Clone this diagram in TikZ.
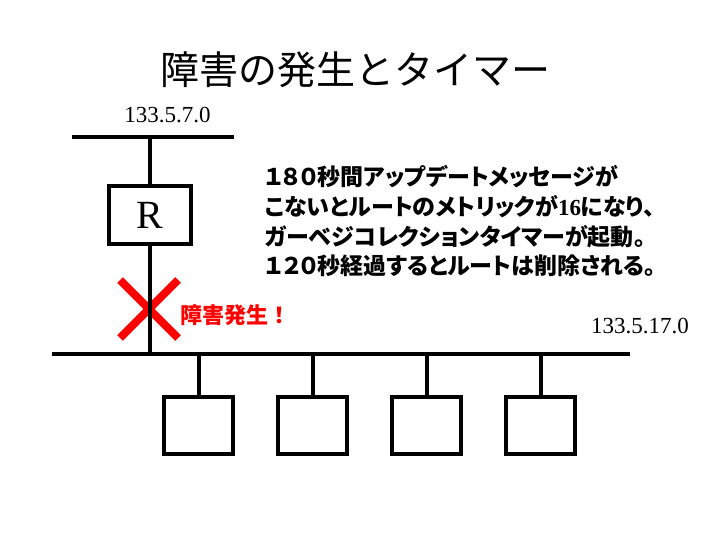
\documentclass[tikz,border=0pt]{standalone}
\usepackage{fontspec}
\setmainfont{Liberation Serif}
\newfontfamily\jp{Noto Sans CJK JP}
\newfontfamily\jpp[RawFeature=+palt]{Noto Sans CJK JP}
\begin{document}
\begin{tikzpicture}[x=1pt,y=-1pt,
  wire/.style={line width=4pt},
  hostbox/.style={draw,line width=4pt,minimum width=69pt,minimum height=57pt,inner sep=0pt},
  addr/.style={font=\fontsize{23}{27}\selectfont,inner sep=0pt},
  body/.style={font=\jpp\bfseries\fontsize{23}{26}\selectfont,inner sep=0pt,anchor=west}]
\useasboundingbox (0,0) rectangle (720,540);
% title
\node[font=\jp\fontsize{39}{46}\selectfont,inner sep=0pt] (title) at (355,70) {障害の発生とタイマー};
% upper network
\node[addr,anchor=base] (a1) at (167.5,123) {133.5.7.0};
\coordinate (t1) at (72,137);
\coordinate (t2) at (234,137);
\coordinate (tj) at (150,137);
\draw[wire] (t1) -- (t2);
% router
\node[hostbox,minimum width=82pt,font=\fontsize{40}{44}\selectfont] (R) at (150,215) {R};
% failure mark
\coordinate (x1) at (120,280);
\coordinate (x2) at (178,338);
\coordinate (x3) at (178,280);
\coordinate (x4) at (120,338);
\draw[red,line width=8pt] (x1) -- (x2) (x3) -- (x4);
% lower network
\coordinate (b1) at (52,354);
\coordinate (b2) at (630,354);
\coordinate (bj) at (150,354);
\draw[wire] (tj) -- (R.north);
\draw[wire] (R.south) -- (bj);
\draw[wire] (b1) -- (b2);
\node[addr,anchor=base] (a2) at (640,333) {133.5.17.0};
% hosts
\foreach \i/\x in {1/198.5,2/312.5,3/426.5,4/540.5}{
  \coordinate (c\i) at (\x,354);
  \node[hostbox] (h\i) at (\x,425.5) {};
  \draw[wire] (c\i) -- (h\i.north);
}
% texts
\node[body,font=\jp\bfseries\fontsize{22}{26}\selectfont,text=red] (fail) at (180,315) {障害発生！};
\node[body] (l1) at (265,177) {１８０秒間アップデートメッセージが};
\node[body] (l2) at (265,207) {こないとルートのメトリックが{\rmfamily 16}になり、};
\node[body] (l3) at (265,237) {ガーベジコレクションタイマーが起動。};
\node[body] (l4) at (265,266) {１２０秒経過するとルートは削除される。};
\end{tikzpicture}
\end{document}
